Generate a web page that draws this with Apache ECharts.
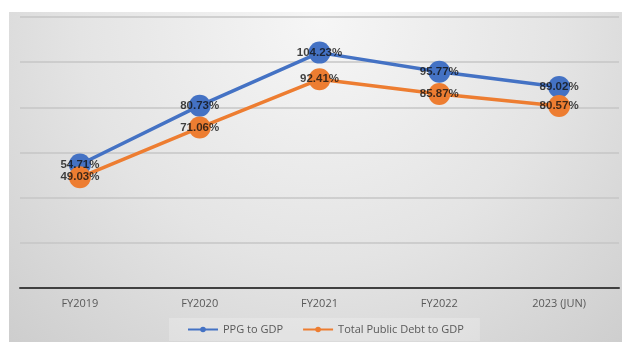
<!DOCTYPE html>
<html>
<head>
<meta charset="utf-8">
<script src="https://cdn.jsdelivr.net/npm/echarts@6/dist/echarts.min.js"></script>
<style>
  html, body { margin: 0; padding: 0; background: #ffffff; }
  #chart { width: 630px; height: 342px; }
</style>
</head>
<body>
<div id="chart"></div>
<script>
// Debt ratios by fiscal year
const categories = ['FY2019', 'FY2020', 'FY2021', 'FY2022', '2023 (JUN)'];
const ppgToGdp = [54.71, 80.73, 104.23, 95.77, 89.02];
const totalDebtToGdp = [49.03, 71.06, 92.41, 85.87, 80.57];
const seriesNames = ['PPG to GDP', 'Total Public Debt to GDP'];
const yTicks = { min: 0, max: 120, interval: 20 };

const BLUE = '#4472C4';
const ORANGE = '#ED7D31';

const chart = echarts.init(document.getElementById('chart'), null, { renderer: 'canvas' });

const pct = p => p.value.toFixed(2) + '%';

const labelStyle = {
  show: true,
  position: 'inside',
  formatter: pct,
  color: '#111111',
  fontFamily: 'Liberation Sans',
  fontWeight: 'bold',
  fontSize: 11.5
};

function lineSeries(name, data, color) {
  return {
    name: name,
    type: 'line',
    data: data,
    symbol: 'circle',
    symbolSize: 22,
    lineStyle: { color: color, width: 3.5 },
    itemStyle: { color: color },
    label: { show: false },
    z: 2
  };
}

// value labels drawn above every marker
function labelSeries(data) {
  return {
    type: 'scatter',
    data: data,
    symbol: 'circle',
    symbolSize: 1,
    itemStyle: { color: 'rgba(0,0,0,0)' },
    label: labelStyle,
    silent: true,
    z: 10
  };
}

chart.setOption({
  animation: false,
  graphic: [{
    type: 'rect',
    z: -10,
    shape: { x: 9, y: 12, width: 613, height: 330 },
    style: {
      fill: {
        type: 'radial',
        x: 320, y: 20, r: 480,
        global: true,
        colorStops: [
          { offset: 0, color: '#f6f6f6' },
          { offset: 0.5, color: '#e4e4e4' },
          { offset: 1, color: '#cacaca' }
        ]
      }
    }
  }],
  grid: { left: 20, right: 11, top: 17, bottom: 54, containLabel: false },
  legend: {
    data: seriesNames,
    left: 169,
    top: 318,
    padding: [6, 16, 6, 18],
    backgroundColor: 'rgba(255,255,255,0.22)',
    itemWidth: 30,
    itemHeight: 7,
    itemGap: 19,
    textStyle: { fontFamily: 'Open Sans', fontSize: 11, color: '#595959' }
  },
  xAxis: {
    type: 'category',
    data: categories,
    boundaryGap: true,
    axisLine: { lineStyle: { color: '#404040', width: 2 } },
    axisTick: { show: false },
    axisLabel: { fontFamily: 'Open Sans', fontSize: 11, color: '#595959', margin: 10 }
  },
  yAxis: {
    type: 'value',
    min: yTicks.min,
    max: yTicks.max,
    interval: yTicks.interval,
    axisLine: { show: false },
    axisTick: { show: false },
    axisLabel: { show: false },
    splitLine: { lineStyle: { color: '#c6c6c6', width: 1.5 } }
  },
  series: [
    lineSeries(seriesNames[0], ppgToGdp, BLUE),
    lineSeries(seriesNames[1], totalDebtToGdp, ORANGE),
    labelSeries(ppgToGdp),
    labelSeries(totalDebtToGdp)
  ]
});
</script>
</body>
</html>
